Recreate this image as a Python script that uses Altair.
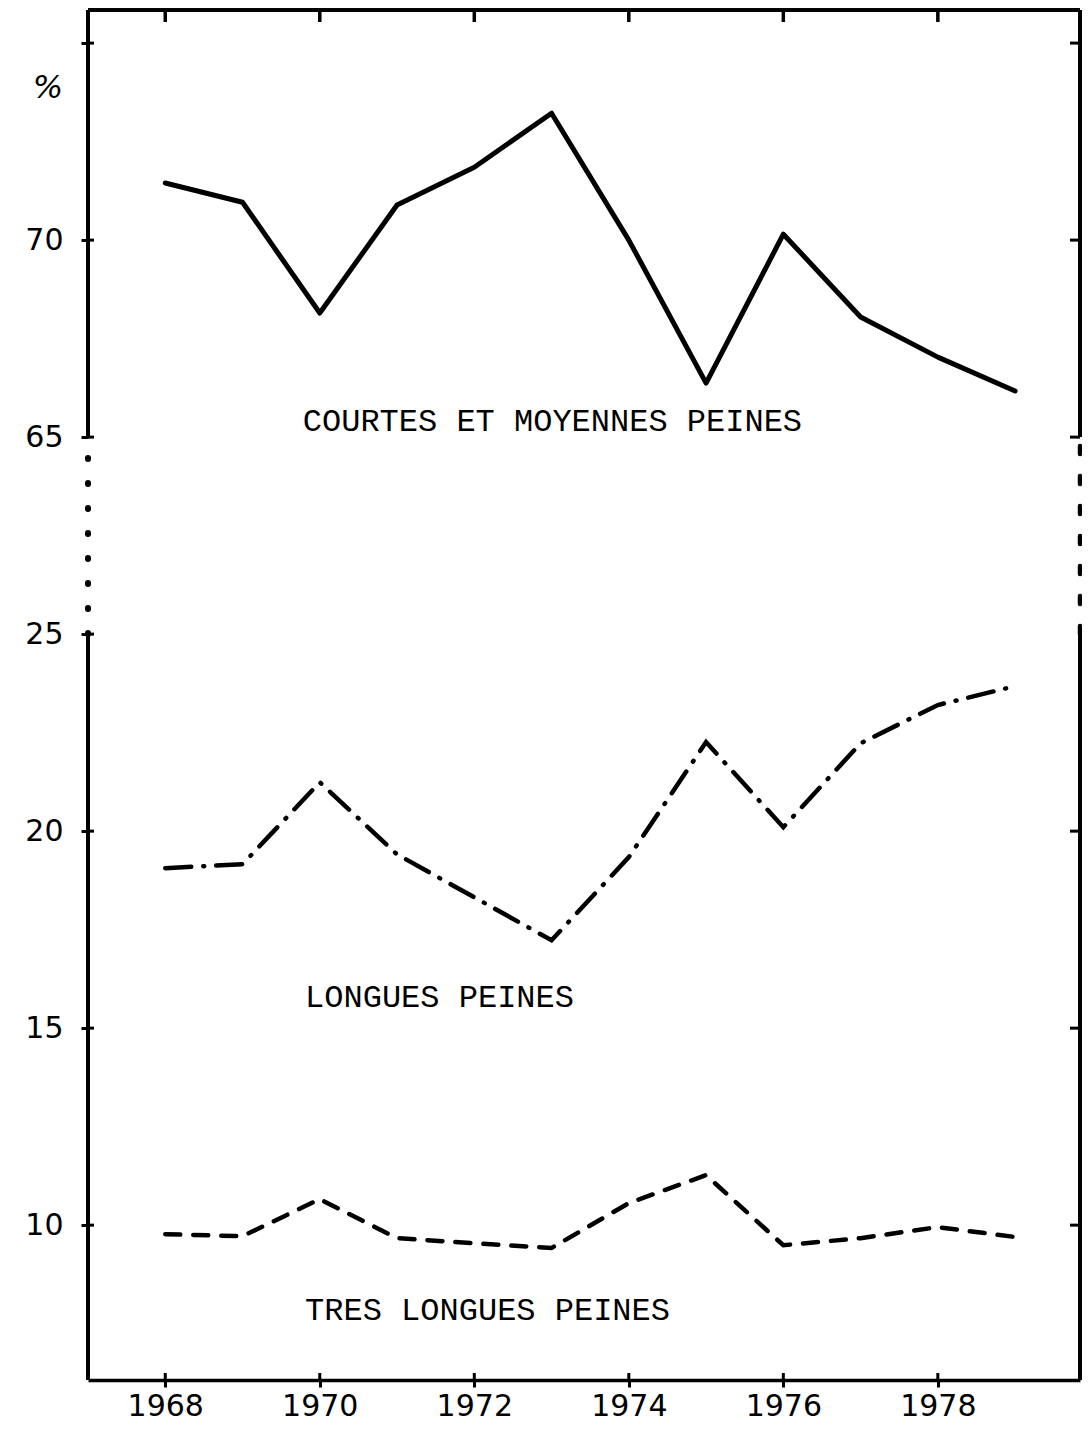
import altair as alt
import pandas as pd

# ---- data ----
YEARS = [1968, 1969, 1970, 1971, 1972, 1973, 1974, 1975, 1976, 1977, 1978, 1979]
COURTES = [71.45, 70.96, 68.15, 70.89, 71.85, 73.22, 70.0, 66.37, 70.15, 68.05, 67.03, 66.17]
LONGUES = [19.06, 19.16, 21.24, 19.41, 18.32, 17.23, 19.34, 22.26, 20.1, 22.23, 23.2, 23.68]
TRES = [9.77, 9.72, 10.66, 9.67, 9.54, 9.42, 10.56, 11.27, 9.49, 9.67, 9.95, 9.7]

SERIES_NAMES = ["COURTES ET MOYENNES PEINES", "LONGUES PEINES", "TRES LONGUES PEINES"]
LABEL_YEARS = [1969.78, 1969.81, 1969.81]
LABEL_VALUES = [65.41, 15.79, 7.84]

X_TICKS = [1968, 1970, 1972, 1974, 1976, 1978]
Y_TICKS_LOW = [10, 15, 20, 25]
Y_TICKS_HIGH = [65, 70, 75]
BREAK_LOW = 25      # top of the lower part of the axis
BREAK_HIGH = 65     # bottom of the upper part of the axis
OFFSET = 35         # upper part is drawn shifted down by this amount (65 -> 30)

X_DOMAIN = [1967.0, 1979.84]
Y_DOMAIN = [6.07, 40.84]

W, H = 992, 1370

# ---- tables ----
df_c = pd.DataFrame({"year": YEARS, "v": [c - OFFSET for c in COURTES]})
df_l = pd.DataFrame({"year": YEARS, "v": LONGUES})
df_t = pd.DataFrame({"year": YEARS, "v": TRES})

df_labels = pd.DataFrame({
    "year": LABEL_YEARS,
    "v": [LABEL_VALUES[0] - OFFSET, LABEL_VALUES[1], LABEL_VALUES[2]],
    "name": SERIES_NAMES,
})

y_ticks_plot = Y_TICKS_LOW + [t - OFFSET for t in Y_TICKS_HIGH]
df_yt = pd.DataFrame({"v": y_ticks_plot})
df_yt_right = pd.DataFrame({"v": [t for t in y_ticks_plot if t != BREAK_LOW]})
df_xt = pd.DataFrame({"year": X_TICKS})

df_solid = pd.DataFrame({"lo": [Y_DOMAIN[0], BREAK_HIGH - OFFSET],
                         "hi": [BREAK_LOW, Y_DOMAIN[1]]})
df_break = pd.DataFrame({"lo": [BREAK_LOW], "hi": [BREAK_HIGH - OFFSET]})
df_pct = pd.DataFrame({"v": [38.86], "t": ["%"]})

NUM_FONT = "DejaVu Sans"
TXT_FONT = "Liberation Mono"

xscale = alt.Scale(domain=X_DOMAIN, nice=False, zero=False)
yscale = alt.Scale(domain=Y_DOMAIN, nice=False, zero=False)

xaxis = alt.Axis(values=X_TICKS, format="d", title=None, grid=False,
                 domain=True, domainColor="black", domainWidth=3.5,
                 ticks=True, tickColor="black", tickWidth=3, tickSize=7,
                 labelFont=NUM_FONT, labelFontSize=30, labelColor="black",
                 labelPadding=4, labelFlush=False, labelOverlap=False)

label_expr = ("datum.value == %d ? '' : (datum.value >= %d ? toString(datum.value + %d) : toString(datum.value))"
              % (75 - OFFSET, BREAK_HIGH - OFFSET, OFFSET))
yaxis = alt.Axis(values=y_ticks_plot, labelExpr=label_expr, title=None, grid=False,
                 domain=False, ticks=True, tickColor="black", tickWidth=3, tickSize=7,
                 labelFont=NUM_FONT, labelFontSize=30, labelColor="black",
                 labelPadding=18, labelFlush=False, labelOverlap=False)


def X(field):
    return alt.X(field, type="quantitative", scale=xscale, axis=xaxis)


def Y(field):
    return alt.Y(field, type="quantitative", scale=yscale, axis=yaxis)


line_c = alt.Chart(df_c).mark_line(color="black", strokeWidth=5, strokeJoin="round",
                                   strokeCap="round").encode(x=X("year"), y=Y("v"))
line_l = alt.Chart(df_l).mark_line(color="black", strokeWidth=4.5, strokeCap="round",
                                   strokeDash=[26, 12, 1, 12]).encode(x=X("year"), y=Y("v"))
line_t = alt.Chart(df_t).mark_line(color="black", strokeWidth=4.5, strokeCap="round",
                                   strokeDash=[15, 13]).encode(x=X("year"), y=Y("v"))

labels = alt.Chart(df_labels).mark_text(font=TXT_FONT, fontSize=32, align="left",
                                        baseline="middle", color="black").encode(
    x=X("year"), y=Y("v"), text="name:N")

pct = alt.Chart(df_pct).mark_text(font=NUM_FONT, fontSize=32, align="center",
                                  baseline="middle", color="black", fontStyle="italic").encode(
    x=alt.value(-40), y=Y("v"), text="t:N")

# frame: left and right axis lines, solid with a dotted break
left_solid = alt.Chart(df_solid).mark_rule(color="black", strokeWidth=4).encode(
    x=alt.value(0), y=Y("lo"), y2="hi:Q")
left_break = alt.Chart(df_break).mark_rule(color="black", strokeWidth=6, strokeCap="round",
                                           strokeDash=[1, 24]).encode(
    x=alt.value(0), y=Y("lo"), y2="hi:Q")
right_solid = alt.Chart(df_solid).mark_rule(color="black", strokeWidth=4).encode(
    x=alt.value(W), y=Y("lo"), y2="hi:Q")
right_break = alt.Chart(df_break).mark_rule(color="black", strokeWidth=4.5, strokeCap="round",
                                            strokeDash=[8, 22]).encode(
    x=alt.value(W), y=Y("lo"), y2="hi:Q")
top_line = alt.Chart(df_xt).mark_rule(color="black", strokeWidth=3).encode(
    x=alt.value(0), x2=alt.value(W), y=alt.value(0))

# inner tick marks
left_in = alt.Chart(df_yt).mark_rule(color="black", strokeWidth=3).encode(
    y=Y("v"), x=alt.value(0), x2=alt.value(6))
right_in = alt.Chart(df_yt_right).mark_rule(color="black", strokeWidth=3).encode(
    y=Y("v"), x=alt.value(W - 10), x2=alt.value(W))
top_in = alt.Chart(df_xt).mark_rule(color="black", strokeWidth=3.5).encode(
    x=X("year"), y=alt.value(0), y2=alt.value(12))
bottom_in = alt.Chart(df_xt).mark_rule(color="black", strokeWidth=3).encode(
    x=X("year"), y=alt.value(H - 7), y2=alt.value(H))

chart = alt.layer(
    left_solid, left_break, right_solid, right_break, top_line,
    left_in, right_in, top_in, bottom_in,
    line_c, line_l, line_t, labels, pct,
).properties(
    width=W, height=H,
    autosize=alt.AutoSizeParams(type="none"),
    padding={"left": 80, "top": 2, "right": 2, "bottom": 48},
    background="white",
).configure_view(stroke=None)

chart.save("out.html", embed_options={"renderer": "svg", "actions": False})
